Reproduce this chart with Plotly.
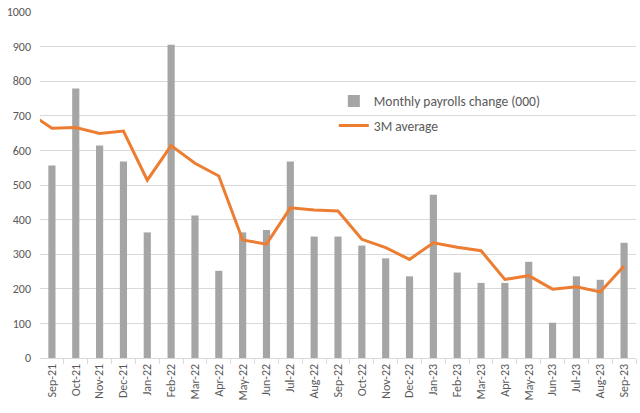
import plotly.graph_objects as go

months = ["Aug-21", "Sep-21", "Oct-21", "Nov-21", "Dec-21", "Jan-22", "Feb-22", "Mar-22", "Apr-22",
          "May-22", "Jun-22", "Jul-22", "Aug-22", "Sep-22", "Oct-22", "Nov-22", "Dec-22",
          "Jan-23", "Feb-23", "Mar-23", "Apr-23", "May-23", "Jun-23", "Jul-23", "Aug-23", "Sep-23"]
bar_months = months[1:]
payrolls = [556, 779, 614, 568, 363, 905, 412, 252, 363, 370, 568, 351,
            351, 325, 288, 236, 472, 247, 217, 217, 278, 102, 236, 226, 333]
avg_3m = [710, 664, 666, 649, 656, 514, 614, 563, 526, 341, 329, 434, 428,
          425, 343, 319, 285, 333, 320, 310, 227, 238, 199, 206, 191, 266]
y_ticks = [0, 100, 200, 300, 400, 500, 600, 700, 800, 900, 1000]

idx = {m: i for i, m in enumerate(months)}
bar_x = [idx[m] for m in bar_months]
line_x = [idx[m] for m in months]

font_family = "Carlito, Liberation Sans, Arial, sans-serif"
fig = go.Figure()
fig.add_trace(go.Bar(x=bar_x, y=payrolls, name="Monthly payrolls change (000)",
                     legendgroup="a",
                     marker=dict(color="#a5a5a5", line=dict(width=0))))
fig.add_trace(go.Scatter(x=line_x, y=avg_3m, name="3M average", mode="lines",
                         legendgroup="b",
                         line=dict(color="#ed7d31", width=3)))

fig.update_layout(
    width=640, height=413,
    margin=dict(l=40, r=4, t=12, b=55, autoexpand=False),
    paper_bgcolor="white", plot_bgcolor="white",
    bargap=0.7,
    font=dict(family=font_family, size=12, color="#595959"),
    showlegend=True,
    legend=dict(x=0.493, y=0.787, xanchor="left", yanchor="top",
                bgcolor="rgba(255,255,255,0)", font=dict(size=13.5, color="#595959"),
                traceorder="grouped", tracegroupgap=4, itemwidth=30),
    xaxis=dict(range=[0.5, 25.5], tickvals=bar_x, ticktext=bar_months,
               tickangle=-90, showgrid=False, automargin=False, zeroline=False,
               showline=True, linecolor="#d9d9d9", linewidth=1,
               ticks="", tickfont=dict(size=12, color="#595959")),
    xaxis2=dict(overlaying="x", range=[0.5, 25.5], tickvals=[i + 0.5 for i in bar_x],
                showticklabels=False, ticks="outside", ticklen=5, tickcolor="#d9d9d9",
                showgrid=False, zeroline=False, side="bottom", anchor="y"),
    yaxis=dict(range=[0, 1000], tickvals=y_ticks, showgrid=True, gridcolor="#d9d9d9",
               gridwidth=1, zeroline=False, ticks="", ticklabelstandoff=8, automargin=False,
               tickfont=dict(size=12, color="#595959")),
)
fig.add_trace(go.Scatter(x=[bar_x[0]], y=[None], xaxis="x2", showlegend=False, hoverinfo="skip"))
fig.write_html("out.html", config={"displayModeBar": False},
               post_script="document.body.style.margin='0px';")
